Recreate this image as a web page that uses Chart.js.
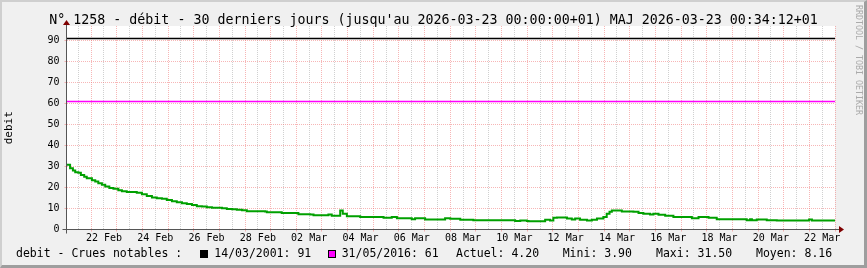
<!DOCTYPE html>
<html><head><meta charset="utf-8">
<script src="https://cdn.jsdelivr.net/npm/chart.js@4/dist/chart.umd.min.js"></script>
<style>
html,body{margin:0;padding:0;background:#f0f0f0;}
#wrap{position:relative;width:867px;height:268px;overflow:hidden;background:#f0f0f0;font-family:"DejaVu Sans Mono",monospace;}
#c{position:absolute;left:0;top:0;}
.frame{position:absolute;left:0;top:0;width:867px;height:268px;box-sizing:border-box;border-top:2px solid #cfcfcf;border-left:2px solid #cfcfcf;border-right:3px solid #9e9e9e;border-bottom:3px solid #9e9e9e;pointer-events:none;}
.t{position:absolute;white-space:pre;line-height:1;color:#000;}
#title{left:49.3px;top:12.75px;font-size:13.3px;}
.lg{font-size:11.5px;top:248.3px;}
.sq{position:absolute;width:6px;height:6px;border:1px solid #000;top:250px;}
#wm{position:absolute;left:855px;top:5px;font-size:8.3px;line-height:1;color:#aaaaaa;writing-mode:vertical-rl;white-space:pre;}
</style>
</head><body>
<div id="wrap">
<canvas id="c" width="867" height="268"></canvas>
<div id="title" class="t"></div>
<div id="legend"></div>
<div id="wm">RRDTOOL / TOBI OETIKER</div>
<div class="frame"></div>
</div>
<script>
// ---- data ----
const titleText = "N° 1258 - débit - 30 derniers jours (jusqu'au 2026-03-23 00:00:00+01) MAJ 2026-03-23 00:34:12+01";
const yAxisTitle = "debit";
// days since 2026-02-21 00:00
const days = [0.04,0.18,0.29,0.38,0.50,0.60,0.73,0.83,1.03,1.16,
  1.28,1.42,1.55,1.71,1.87,2.06,2.20,2.39,2.59,2.78,
  2.98,3.17,3.37,3.56,3.76,3.95,4.15,4.34,4.54,4.73,
  4.93,5.12,5.32,5.51,5.71,5.90,6.10,6.29,6.49,6.68,
  6.88,7.07,7.33,7.52,7.78,7.85,8.43,8.50,9.08,9.54,
  9.67,10.12,10.25,10.38,10.64,10.71,10.81,10.97,11.49,12.40,
  12.72,12.92,13.50,13.63,14.02,14.61,14.80,15.00,15.39,15.90,
  17.40,17.53,17.73,17.99,18.05,18.51,18.70,18.89,19.02,19.16,
  19.55,19.74,19.87,20.06,20.33,20.52,20.72,20.97,21.10,21.21,
  21.30,21.62,21.69,22.14,22.34,22.53,22.79,22.92,23.12,23.38,
  23.70,24.42,24.68,25.07,25.39,26.56,26.69,26.76,26.95,27.34,
  27.73,28.90,28.99,29.10,30.00];
const flow = [30.8,29.2,28.1,27.3,27.0,26.0,25.1,24.4,23.5,22.9,
  22.0,21.3,20.5,19.8,19.4,18.7,18.2,17.9,17.8,17.5,
  16.8,15.9,15.2,14.9,14.6,14.1,13.5,13.0,12.5,12.2,
  11.7,11.1,11.0,10.6,10.3,10.3,10.1,9.8,9.7,9.4,
  9.2,8.7,8.7,8.7,8.6,8.2,7.9,7.8,7.3,7.1,
  6.8,6.8,7.1,6.5,6.5,9.0,7.5,6.3,5.9,5.6,
  5.9,5.4,4.9,5.4,4.8,4.8,5.4,5.1,4.6,4.4,
  4.4,4.0,4.3,4.1,3.9,3.9,4.6,4.3,5.6,5.7,
  5.2,4.8,5.2,4.6,4.3,4.6,5.2,6.0,7.5,8.4,
  9.0,9.0,8.6,8.4,7.9,7.5,7.1,7.5,7.0,6.5,
  6.0,5.4,5.9,5.6,4.9,4.4,4.9,4.4,4.8,4.4,
  4.3,4.3,4.8,4.3,4.2];
const crueDates = ['14/03/2001','31/05/2016'];
const crueValues = [91, 61];
const crueColors = ['#000000','#ff00ff'];
const statLabels = ['Actuel','Mini','Maxi','Moyen'];
const statValues = ['4.20','3.90','31.50','8.16'];
const xTickLabels = ['22 Feb','24 Feb','26 Feb','28 Feb','02 Mar','04 Mar','06 Mar','08 Mar','10 Mar','12 Mar','14 Mar','16 Mar','18 Mar','20 Mar','22 Mar'];
const yTickValues = [0,5,10,15,20,25,30,35,40,45,50,55,60,65,70,75,80,85,90,95];

// ---- layout / style ----
const X_MIN = 0.04, X_MAX = 30, Y_MIN = 0, Y_MAX = 96.9;
const RED = 'rgba(240,110,110,0.5)', GREY = 'rgba(170,170,170,0.55)';
Chart.defaults.font.family = "'DejaVu Sans Mono', monospace";
Chart.defaults.color = '#000';

document.getElementById('title').textContent = titleText;

// legend
const lg = document.getElementById('legend');
function addText(txt, x){ const d=document.createElement('div'); d.className='t lg'; d.style.left=x+'px'; d.textContent=txt; lg.appendChild(d); }
function addSq(col, x){ const d=document.createElement('div'); d.className='sq'; d.style.left=x+'px'; d.style.background=col; lg.appendChild(d); }
addText('debit - Crues notables :', 16);
const sqX=[199.5,327.5], txX=[214.3,341.7];
crueDates.forEach((d,i)=>{ addSq(crueColors[i], sqX[i]); addText(d+': '+crueValues[i], txX[i]); });
const stX=[456,562.7,656,756];
statLabels.forEach((l,i)=>addText(l+': '+statValues[i], stX[i]));

const xGrid = [];
for (let k=1;k<=60;k++) xGrid.push(k/2);

const datasets = [{
  data: days.map((d,i)=>({x:d,y:flow[i]})),
  borderColor:'#00a000', borderWidth:2, stepped:true, pointRadius:0, fill:false
}];
crueValues.forEach((v,i)=>datasets.push({
  data:[{x:X_MIN,y:v},{x:X_MAX,y:v}], borderColor:crueColors[i], borderWidth:1.5, pointRadius:0, fill:false
}));

const deco = {
  id:'deco',
  beforeDraw(chart){
    const {ctx, chartArea:a} = chart;
    ctx.save(); ctx.fillStyle='#fff';
    ctx.fillRect(a.left, a.top, a.right-a.left, a.bottom-a.top);
    ctx.restore();
  },
  afterDraw(chart){
    const {ctx, chartArea:a} = chart;
    const xa = Math.floor(a.left)+0.5, yb = Math.floor(a.bottom)+0.5;
    ctx.save();
    ctx.strokeStyle='#555'; ctx.lineWidth=1;
    ctx.beginPath();
    ctx.moveTo(xa-4, yb); ctx.lineTo(a.right+4, yb);
    ctx.moveTo(xa, yb+4); ctx.lineTo(xa, a.top-1);
    ctx.stroke();
    ctx.fillStyle='#7f0000';
    ctx.beginPath();
    ctx.moveTo(a.right+9, yb); ctx.lineTo(a.right+4, yb-3.5); ctx.lineTo(a.right+4, yb+3.5); ctx.closePath(); ctx.fill();
    ctx.beginPath();
    ctx.moveTo(xa, a.top-6); ctx.lineTo(xa-3.5, a.top-1); ctx.lineTo(xa+3.5, a.top-1); ctx.closePath(); ctx.fill();
    ctx.restore();
  }
};

new Chart(document.getElementById('c'), {
  type:'line',
  data:{datasets},
  options:{
    responsive:false, animation:false, devicePixelRatio:1,
    layout:{padding:{left:0, top:26, right:32, bottom:0}},
    plugins:{legend:{display:false}, tooltip:{enabled:false}, title:{display:false}},
    scales:{
      x:{
        type:'linear', min:X_MIN, max:X_MAX,
        afterBuildTicks:(s)=>{ s.ticks = xGrid.map(v=>({value:v})); },
        afterFit:(s)=>{ s.height = 38.5; },
        border:{display:false, dash:[1,1]},
        grid:{
          color:(c)=> (c.tick && Number.isInteger(c.tick.value)) ? RED : GREY,
          tickColor:(c)=> (c.tick && Number.isInteger(c.tick.value)) ? RED : 'rgba(0,0,0,0)',
          tickLength:2, lineWidth:1
        },
        ticks:{
          autoSkip:false, maxRotation:0, minRotation:0, padding:1,
          font:{size:10},
          callback:(v)=>{ const k=Math.round(v*2); return (k%4===3) ? xTickLabels[(k-3)/4] : ''; }
        }
      },
      y:{
        type:'linear', min:Y_MIN, max:Y_MAX,
        afterBuildTicks:(s)=>{ s.ticks = yTickValues.map(v=>({value:v})); },
        afterFit:(s)=>{ s.width = 66.5; },
        border:{display:false, dash:[1,1]},
        grid:{
          color:(c)=> (c.tick && c.tick.value%10===0) ? RED : GREY,
          tickColor:(c)=> (c.tick && c.tick.value%10===0) ? RED : 'rgba(0,0,0,0)',
          tickLength:2, lineWidth:1
        },
        ticks:{
          padding:5, font:{size:10},
          callback:(v)=> (v%10===0) ? String(v) : ''
        },
        title:{display:true, text:yAxisTitle, font:{size:11}, padding:{top:3,bottom:0}, color:'#000'}
      }
    }
  },
  plugins:[deco]
});
</script>
</body></html>
